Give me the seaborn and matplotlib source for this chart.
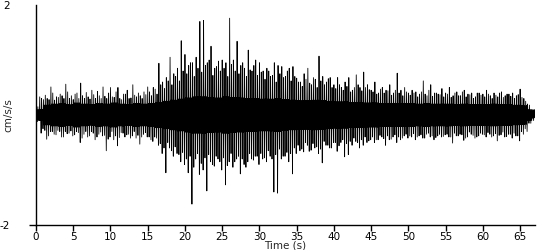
import numpy as np
import pandas as pd
import matplotlib
matplotlib.use("Agg")
import matplotlib.pyplot as plt
import seaborn as sns

# Main peak readings, one per 0.5 s, cm/s/s
upper = [
    0.08, 0.33, 0.28, 0.30, 0.51, 0.27, 0.32, 0.35, 0.56, 0.30,
    0.28, 0.40, 0.58, 0.30, 0.33, 0.45, 0.30, 0.35, 0.51, 0.30,
    0.50, 0.32, 0.50, 0.28, 0.38, 0.30, 0.55, 0.33, 0.35, 0.42,
    0.51, 0.35, 0.47, 0.94, 0.60, 0.68, 1.05, 0.75, 0.85, 1.35,
    1.10, 0.90, 0.95, 1.05, 1.70, 1.72, 0.95, 1.25, 0.85, 0.98,
    1.00, 0.95, 1.76, 1.00, 1.34, 0.90, 0.85, 1.18, 0.80, 1.00,
    0.95, 0.80, 0.85, 0.70, 0.95, 0.90, 0.88, 0.70, 0.85, 0.88,
    0.67, 0.60, 0.75, 0.85, 0.55, 0.65, 1.07, 0.70, 0.60, 0.68,
    0.55, 0.68, 0.50, 0.60, 0.68, 0.45, 0.73, 0.50, 0.78, 0.55,
    0.45, 0.60, 0.40, 0.50, 0.45, 0.55, 0.40, 0.76, 0.45, 0.50,
    0.40, 0.45, 0.42, 0.38, 0.62, 0.35, 0.55, 0.40, 0.38, 0.48,
    0.40, 0.50, 0.35, 0.42, 0.35, 0.45, 0.38, 0.40, 0.33, 0.40,
    0.38, 0.45, 0.35, 0.40, 0.33, 0.42, 0.35, 0.38, 0.40, 0.35,
    0.47, 0.30, 0.20, 0.10,
]

# Main trough readings, one per 0.5 s, cm/s/s
lower = [
    -0.10, -0.25, -0.44, -0.30, -0.35, -0.28, -0.40, -0.30, -0.33, -0.38,
    -0.30, -0.50, -0.35, -0.40, -0.30, -0.45, -0.35, -0.38, -0.65, -0.40,
    -0.45, -0.56, -0.32, -0.40, -0.35, -0.38, -0.42, -0.53, -0.35, -0.40,
    -0.45, -0.40, -0.55, -0.70, -1.05, -0.60, -0.75, -0.70, -0.85, -0.90,
    -1.05, -1.62, -0.80, -1.08, -1.00, -1.38, -0.85, -0.93, -0.80, -1.00,
    -1.27, -0.85, -0.95, -0.80, -1.07, -0.90, -0.85, -0.80, -0.75, -0.90,
    -0.80, -0.85, -0.75, -1.40, -1.42, -0.80, -0.75, -0.85, -1.07, -0.70,
    -0.65, -0.67, -0.55, -0.64, -0.60, -0.70, -0.87, -0.55, -0.60, -0.50,
    -0.66, -0.50, -0.76, -0.72, -0.55, -0.48, -0.60, -0.55, -0.50, -0.45,
    -0.50, -0.45, -0.40, -0.55, -0.45, -0.40, -0.50, -0.45, -0.38, -0.42,
    -0.40, -0.45, -0.38, -0.42, -0.35, -0.40, -0.45, -0.38, -0.40, -0.36,
    -0.40, -0.51, -0.38, -0.35, -0.46, -0.40, -0.35, -0.42, -0.38, -0.35,
    -0.40, -0.35, -0.38, -0.47, -0.36, -0.40, -0.35, -0.42, -0.38, -0.47,
    -0.35, -0.30, -0.15, -0.05,
]

# Secondary peak readings, one per 0.5 s (between the main ones), cm/s/s
upper2 = [
    0.15, 0.30, 0.36, 0.28, 0.40, 0.33, 0.38, 0.30, 0.42, 0.35,
    0.38, 0.30, 0.35, 0.41, 0.29, 0.37, 0.43, 0.30, 0.34, 0.40,
    0.33, 0.42, 0.30, 0.38, 0.45, 0.31, 0.36, 0.40, 0.30, 0.37,
    0.42, 0.50, 0.38, 0.55, 0.48, 0.62, 0.55, 0.70, 0.62, 0.80,
    0.75, 0.95, 0.70, 0.85, 0.78, 0.90, 1.00, 0.72, 0.88, 0.80,
    0.85, 0.70, 0.92, 0.80, 0.75, 0.95, 0.70, 0.82, 0.90, 0.72,
    0.78, 0.65, 0.80, 0.72, 0.60, 0.75, 0.68, 0.80, 0.62, 0.70,
    0.60, 0.52, 0.65, 0.58, 0.68, 0.50, 0.62, 0.55, 0.66, 0.50,
    0.48, 0.55, 0.45, 0.52, 0.42, 0.50, 0.55, 0.44, 0.50, 0.46,
    0.42, 0.38, 0.47, 0.40, 0.44, 0.36, 0.45, 0.40, 0.35, 0.42,
    0.36, 0.40, 0.33, 0.42, 0.38, 0.45, 0.34, 0.40, 0.37, 0.33,
    0.38, 0.32, 0.40, 0.35, 0.42, 0.33, 0.37, 0.30, 0.40, 0.36,
    0.33, 0.38, 0.30, 0.36, 0.40, 0.32, 0.38, 0.34, 0.30, 0.37,
    0.32, 0.25, 0.18, 0.08,
]

# Secondary trough readings, one per 0.5 s, cm/s/s
lower2 = [
    -0.12, -0.33, -0.28, -0.38, -0.30, -0.36, -0.30, -0.40, -0.34, -0.29,
    -0.36, -0.32, -0.42, -0.30, -0.38, -0.33, -0.40, -0.31, -0.37, -0.44,
    -0.30, -0.38, -0.41, -0.33, -0.36, -0.42, -0.30, -0.37, -0.40, -0.32,
    -0.40, -0.48, -0.42, -0.52, -0.60, -0.50, -0.65, -0.58, -0.72, -0.68,
    -0.80, -0.75, -0.95, -0.70, -0.88, -0.78, -0.72, -0.90, -0.75, -0.85,
    -0.78, -0.92, -0.70, -0.85, -0.75, -0.80, -0.95, -0.70, -0.82, -0.75,
    -0.70, -0.78, -0.65, -0.80, -0.72, -0.62, -0.75, -0.68, -0.70, -0.60,
    -0.55, -0.62, -0.50, -0.66, -0.52, -0.58, -0.62, -0.48, -0.55, -0.60,
    -0.50, -0.56, -0.45, -0.52, -0.48, -0.42, -0.50, -0.45, -0.40, -0.47,
    -0.40, -0.45, -0.37, -0.43, -0.38, -0.44, -0.36, -0.40, -0.42, -0.35,
    -0.38, -0.34, -0.40, -0.36, -0.42, -0.33, -0.38, -0.41, -0.35, -0.39,
    -0.35, -0.40, -0.33, -0.38, -0.36, -0.42, -0.31, -0.37, -0.40, -0.33,
    -0.36, -0.32, -0.40, -0.34, -0.37, -0.31, -0.39, -0.35, -0.33, -0.38,
    -0.30, -0.25, -0.15, -0.06,
]

# Half-width of the solid core band, one reading per 1 s, cm/s/s
core = [
    0.10, 0.18, 0.20, 0.21, 0.19, 0.22, 0.20, 0.19, 0.21, 0.20,
    0.22, 0.20, 0.19, 0.21, 0.20, 0.21, 0.23, 0.25, 0.27, 0.29,
    0.31, 0.33, 0.33, 0.32, 0.31, 0.33, 0.32, 0.31, 0.30, 0.30,
    0.29, 0.29, 0.30, 0.28, 0.27, 0.26, 0.26, 0.27, 0.26, 0.25,
    0.24, 0.24, 0.23, 0.23, 0.22, 0.22, 0.21, 0.21, 0.21, 0.21,
    0.21, 0.20, 0.21, 0.20, 0.20, 0.20, 0.19, 0.20, 0.19, 0.19,
    0.19, 0.20, 0.19, 0.19, 0.18, 0.17, 0.10,
]

x_ticks = [0, 5, 10, 15, 20, 25, 30, 35, 40, 45, 50, 55, 60, 65]
y_ticks = [-2, 2]

# Build the trace: within each 0.5 s block the peak/trough readings
# alternate with core-band swings, sampled every 1/16 s
times, vals = [], []
step = 0.5 / 8
for i in range(len(upper)):
    c = core[min(i // 2, len(core) - 1)]
    block = [upper[i], -c, c, lower2[i], upper2[i], -c, c, lower[i]]
    for j, v in enumerate(block):
        times.append(i * 0.5 + j * step)
        vals.append(v)
df = pd.DataFrame({"Time (s)": times, "cm/s/s": vals})

sns.set_style("white")
plt.rcParams['font.family'] = ['DejaVu Sans']

fig = plt.figure(figsize=(5.5, 2.5), dpi=100)
ax = fig.add_axes([36 / 550, 0.10, (535 - 36) / 550, 0.88])
sns.lineplot(data=df, x="Time (s)", y="cm/s/s", ax=ax, color="black",
             linewidth=0.6, estimator=None, sort=False)

ax.set_xlim(0, 67)
ax.set_ylim(-2, 2)
ax.set_xticks(x_ticks)
ax.set_yticks(y_ticks)
ax.set_yticklabels(["-2", "2"])
for s in ["top", "right"]:
    ax.spines[s].set_visible(False)
for s in ["left", "bottom"]:
    ax.spines[s].set_color("black")
    ax.spines[s].set_linewidth(1.0)
ax.tick_params(axis="x", direction="out", length=4, width=1, colors="black",
               labelsize=7.5, pad=1, bottom=True)
ax.tick_params(axis="y", direction="out", length=5, width=1, colors="black",
               labelsize=7.5, pad=14, left=True)
ax.yaxis.get_major_ticks()[1].tick1line.set_visible(False)
ax.set_xlabel("Time (s)", fontsize=7.5, labelpad=-1)
ax.set_ylabel("cm/s/s", fontsize=7.5)
ax.yaxis.set_label_coords(-0.045, 0.5)

fig.savefig("out.png", dpi=100)
